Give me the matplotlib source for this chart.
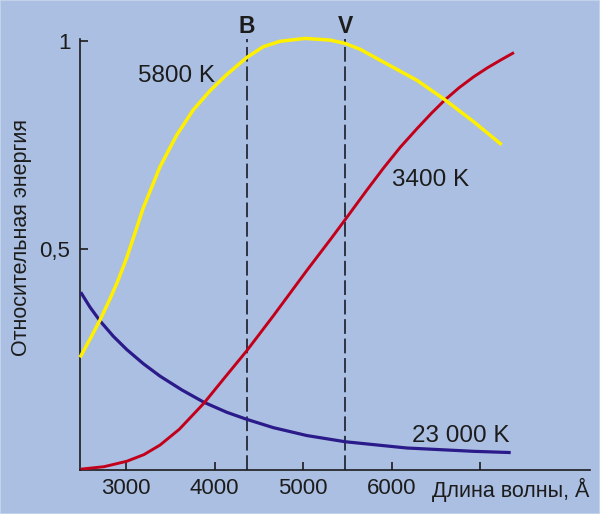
import matplotlib
matplotlib.use("Agg")
import matplotlib.pyplot as plt
from matplotlib import font_manager as fm
from matplotlib.patches import Rectangle

# ---------------- data ----------------
lam_5800 = [2478, 2591, 2704, 2817, 2911, 3006, 3100, 3193, 3382, 3570, 3758,
            3947, 4136, 4362, 4549, 4738, 5020, 5303, 5472, 5642, 5908,
            6287, 6597, 6929, 7243]
e_5800 = [0.238, 0.282, 0.328, 0.379, 0.425, 0.478, 0.538, 0.598, 0.697, 0.773,
          0.834, 0.880, 0.919, 0.960, 0.986, 0.999, 1.006, 1.002, 0.994,
          0.980, 0.949, 0.905, 0.859, 0.805, 0.750]

lam_3400 = [2486, 2750, 3006, 3200, 3382, 3600, 3879, 4100, 4362, 4662, 5040,
            5322, 5472, 5720, 5908, 6097, 6287, 6450, 6597, 6760, 6929, 7080,
            7232, 7382]
e_3400 = [-0.031, -0.025, -0.012, 0.004, 0.027, 0.065, 0.128, 0.186, 0.254,
          0.338, 0.447, 0.526, 0.569, 0.641, 0.694, 0.744, 0.789, 0.826, 0.857,
          0.887, 0.914, 0.935, 0.954, 0.972]

lam_23000 = [2486, 2591, 2704, 2854, 3006, 3193, 3382, 3627, 3879, 4136, 4362,
             4662, 5040, 5476, 6170, 6920, 7345]
e_23000 = [0.395, 0.359, 0.326, 0.289, 0.257, 0.223, 0.193, 0.160, 0.130, 0.106,
           0.089, 0.069, 0.050, 0.035, 0.020, 0.012, 0.009]

band_pos = [4362, 5476]
band_names = ["B", "V"]

x_ticks = [3000, 4000, 5000, 6000, 7000]
x_tick_labels = ["3000", "4000", "5000", "6000", ""]
y_ticks = [0.5, 1.0]
y_tick_labels = ["0,5", "1"]

curve_labels = ["5800 K", "3400 K", "23 000 K"]
x_title = "Длина волны, Å"
y_title = "Относительная энергия"

# ---------------- style ----------------
BG = "#abbfe2"
TXT = "#1c1c1c"
YEL = "#fff000"
RED = "#c2001a"
BLU = "#2b1a8a"
DASH = "#2e3444"

names = {f.name for f in fm.fontManager.ttflist}
if "Liberation Sans Narrow" in names:
    FAM = ["Liberation Sans Narrow", "DejaVu Sans"]
elif "Liberation Sans" in names:
    FAM = ["Liberation Sans", "DejaVu Sans"]
else:
    FAM = ["DejaVu Sans"]
FONT = dict(family=FAM)
plt.rcParams["lines.scale_dashes"] = False

W, H = 600, 514
fig = plt.figure(figsize=(W / 100, H / 100), dpi=100)
fig.patch.set_facecolor(BG)
fig.patches.append(Rectangle((0, 0), 1, 1, transform=fig.transFigure,
                             fill=False, edgecolor="#c9d6ee", linewidth=1.2))


def fp(x, y):
    return x / W, 1 - y / H


ax = fig.add_axes([80 / W, 44 / H, 510 / W, 460 / H])
ax.set_facecolor(BG)
ax.set_xlim(2478, 8241)
ax.set_ylim(-0.033, 1.0744)

for s in ("top", "right"):
    ax.spines[s].set_visible(False)
for s in ("left", "bottom"):
    ax.spines[s].set_color(TXT)
    ax.spines[s].set_linewidth(1.2)
ax.spines["left"].set_bounds(-0.033, 1.004)

ax.set_xticks(x_ticks)
ax.set_xticklabels(x_tick_labels)
ax.set_yticks(y_ticks)
ax.set_yticklabels(y_tick_labels)
ax.tick_params(axis="both", direction="in", color=TXT, width=1.2,
               labelcolor=TXT, labelsize=16)
ax.tick_params(axis="x", length=5.5, pad=6)
ax.tick_params(axis="y", length=6, pad=7)
for lab in ax.get_xticklabels() + ax.get_yticklabels():
    lab.set(**FONT)

# dashed band lines
for xp, nm in zip(band_pos, band_names):
    ax.plot([xp, xp], [-0.033, 1.004], color=DASH, lw=1.4,
            linestyle=(0, (10.6, 3.4)), zorder=2)
    ax.text(xp, 1.02, nm, ha="center", va="baseline", fontsize=16.5,
            fontweight="bold", color=TXT, **FONT)

ax.plot(lam_23000, e_23000, color=BLU, lw=2.3, solid_capstyle="butt", zorder=3)
ax.plot(lam_3400, e_3400, color=RED, lw=2.1, solid_capstyle="butt", zorder=3)
ax.plot(lam_5800, e_5800, color=YEL, lw=2.5, solid_capstyle="butt", zorder=4,
        clip_on=False)

# curve labels
fig.text(*fp(177, 82), curve_labels[0], ha="center", va="baseline",
         fontsize=17.5, color=TXT, **FONT)
fig.text(*fp(431, 185.5), curve_labels[1], ha="center", va="baseline",
         fontsize=17.5, color=TXT, **FONT)
fig.text(*fp(461, 442), curve_labels[2], ha="center", va="baseline",
         fontsize=17.5, color=TXT, **FONT)

# axis titles
fig.text(*fp(589, 497), x_title, ha="right", va="baseline",
         fontsize=15.5, color=TXT, **FONT)
fig.text(*fp(22, 237), y_title, ha="center", va="center", rotation=90,
         fontsize=15.5, color=TXT, **FONT)

fig.savefig("out.png", dpi=100, facecolor=BG)
